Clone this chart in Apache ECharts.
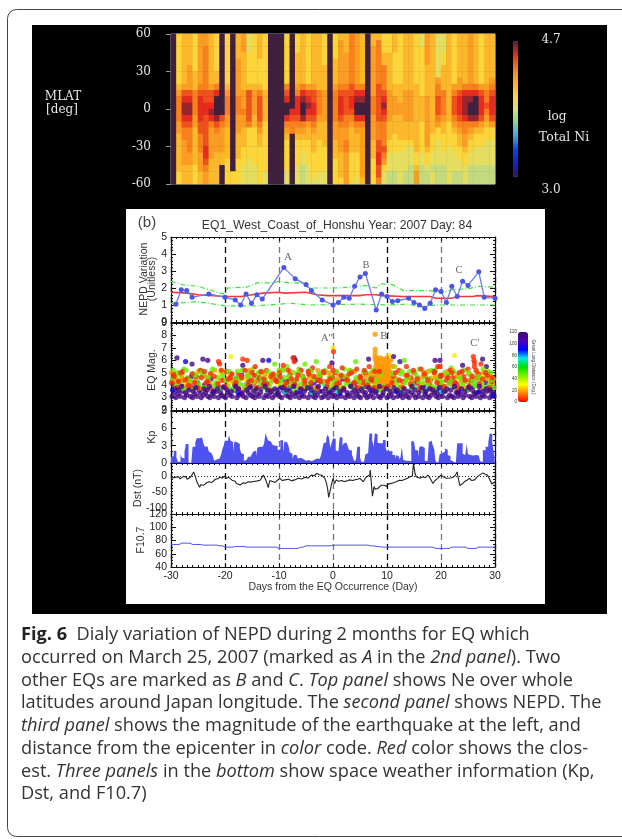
<!DOCTYPE html>
<html><head><meta charset="utf-8">
<style>html,body{margin:0;padding:0;background:#fff}
#c,#cap{position:absolute;left:0;top:0;width:622px;height:839px}
#c{filter:blur(0.62px)}#cap{pointer-events:none}</style>
<script src="https://cdn.jsdelivr.net/npm/echarts@6/dist/echarts.min.js"></script></head>
<body><div id="c"></div><div id="cap"></div>
<script>
// ---- heat map: one string per day column, top row (+60) to bottom row (-60); char = level
const logNiLevels = [3.80,3.90,4.02,4.14,4.24,4.34,4.45,4.53,4.61,4.70];
const logNiColumns = [
"999999999999999999999999","222222223455554433333322","333333334678876554444333","333334444678876555544333",
"222222333555544333333222","444444445677776655544433","445555555667766666776544","333333334667875444443333",
"222222335799986544433333","999999999999965444433999","222222223455544333332222","999999999999999999999922",
"333344444455544433332222","444333333444544333222111","111222223666665222221111","222222223444433222222111",
"333322223566665433222222","222222222333332222222211","999999999999999999999999","999999999999999999999999",
"999999999999999999999999","222222225679975432222211","999999999999765599999999","222333334577765432222111",
"333333335789985432211000","222222224678764332222111","333333334667765433322221","333333333555543332222211",
"222223333444443333222211","999999999999999999999999","222233334555554443332222","344444445677765444433332",
"333444445666655445544444","555555556677654333322222","444444445789975433322221","333333335789975444444443",
"999999999999999999999999","334444444455544443332222","355555556666665556677665","222335555678765555654211",
"222333333444443332211100","333222223344433322211100","222222223334433332211111","333333333444443332111100",
"333333333444443332111000","222222223333333333322344","112222222233332222211000","444443333344444444322100",
"333333333333333322211011","111111145566654221111000","111223333555543322211000","333333333333332222111111",
"222222224566654322211100","333333344677765433221100","333333335788875544322111","444444445789985432211000",
"333333335799985322111000","222222224677764322111000","333333334556543221111000","333333345677764221111000"];

// ---- NEPD panel: [day, value]
const nepdBlue = [[-29.1,1.05],[-28.1,1.9],[-27.1,1.85],[-26.1,1.45],[-23,1.65],[-20,1.45],[-18.1,1.3],[-17.1,1.0],[-16.1,1.65],[-15.1,1.1],[-14.1,1.6],[-13.1,1.35],[-9.1,3.2],[-7,2.55],[-5,2.2],[-4,1.85],[-2,1.3],[0,1.0],[1,1.15],[2,1.45],[3,1.4],[4,2.1],[5,2.65],[6,2.85],[8,0.7],[9,1.65],[10,1.5],[11,1.2],[12,1.25],[14,1.4],[15,1.15],[16,1.0],[17,0.8],[18,1.1],[19,1.9],[20,1.8],[21,1.15],[22,2.1],[23,1.5],[24,2.4],[25,2.15],[27,2.95],[28,1.45],[30,1.4]];
const nepdRed = [[-30,1.75],[-27,1.7],[-25,1.6],[-20,1.5],[-17,1.5],[-15,1.6],[-13,1.7],[-10,1.75],[-9,1.7],[-5,1.75],[-3,1.6],[-1,1.55],[5,1.55],[6,1.6],[8,1.6],[9,1.55],[13,1.5],[18,1.5],[19,1.4],[22,1.4],[23,1.5],[26,1.5],[26.5,1.55],[30,1.5]];
const nepdUpper = [[-30,2.4],[-28,2.2],[-25,2.1],[-23,1.9],[-21,1.7],[-20,1.65],[-19.5,2.0],[-16,2.05],[-14,2.3],[-11,2.3],[-10,2.4],[-8,2.3],[-6,2.3],[-4.5,2.0],[1,2.0],[5,2.1],[6,2.15],[8,2.0],[8.8,2.25],[11,2.2],[13,1.85],[18,1.85],[20,1.7],[22,1.9],[25,1.95],[27,2.1],[30,2.05]];
const nepdLower = [[-30,1.1],[-27,1.15],[-25.5,1.2],[-23,1.1],[-20,0.95],[-14,0.95],[-10,1.05],[-8,1.1],[-6,1.05],[-4,1.0],[5,1.05],[10,1.0],[14,1.05],[16,0.9],[19,1.0],[24,1.0],[30,1.0]];

// ---- earthquakes: flat day*10, magnitude*10 pairs, one list per distance colour
const eqPurple = [-298,31,-294,34,-291,30,-287,33,-283,31,-279,35,-275,30,-271,32,-268,38,-264,31,-260,30,-256,33,-252,31,-248,36,-244,30,-240,32,-236,34,-232,31,-228,30,-224,33,-220,31,-216,35,-212,30,-207,32,-203,31,-199,30,-195,34,-191,32,-187,31,-183,36,-178,30,-174,32,-170,33,-166,31,-161,30,-157,34,-153,32,-149,31,-145,30,-141,33,-137,31,-133,37,-128,30,-124,32,-120,31,-116,34,-112,30,-107,32,-103,33,-99,31,-95,30,-91,35,-87,32,-83,31,-79,30,-75,33,-70,31,-66,34,-62,30,-58,32,-54,31,-50,37,-46,30,-42,33,-37,31,-33,30,-29,32,-25,35,-21,30,-17,31,-13,33,-9,30,-5,34,-1,31,3,32,7,30,11,33,15,31,19,36,23,30,27,32,31,31,35,34,39,30,43,33,47,31,51,30,55,35,59,32,63,30,67,31,71,33,75,30,79,34,84,31,88,30,92,32,96,37,100,30,104,31,108,33,112,30,116,35,120,31,124,32,129,30,133,33,137,31,141,30,145,34,149,32,153,30,158,31,162,36,166,30,170,33,174,31,178,30,182,32,187,34,191,31,195,30,199,33,203,31,208,35,212,30,216,32,220,31,224,30,228,34,232,31,236,33,241,30,245,32,249,36,253,31,257,30,261,33,265,31,269,34,273,30,277,32,281,31,285,35,290,30,294,33,298,31,
-296,41,-285,44,-277,39,-262,47,-251,42,-238,40,-226,45,-209,38,-196,43,-181,41,-169,48,-152,39,-139,44,-127,42,-110,46,-98,38,-84,43,-72,40,-56,47,-41,39,-27,44,-12,41,2,38,18,45,33,40,46,43,61,39,77,46,94,41,109,44,123,38,138,47,151,42,168,39,181,45,197,41,211,48,226,38,239,44,254,40,268,46,283,42,296,39,
-289,62,-241,61,-232,60,-261,57,-167,56,-130,60,-72,62,-70,60,-2,58,66,61,112,63,124,59,189,60,198,60,277,61,284,55,240,56];
const eqPurple2 = [-293,37,-286,36,-281,39,-273,34,-267,36,-259,35,-254,38,-246,34,-239,37,-233,36,-229,39,-221,35,-214,37,-208,34,-202,38,-196,36,-188,35,-180,39,-175,37,-168,34,-160,36,-154,38,-147,35,-142,37,-134,34,-126,39,-121,36,-114,35,-108,37,-101,34,-93,38,-86,36,-80,35,-73,39,-68,34,-60,37,-53,35,-47,38,-40,36,-34,34,-27,39,-20,35,-14,37,-7,34,0,36,6,38,13,35,20,37,26,34,33,39,40,36,47,35,53,37,60,34,66,38,73,36,80,35,86,39,93,34,99,37,106,35,113,38,119,36,126,34,132,37,139,35,146,39,152,36,159,34,165,38,171,35,179,37,185,36,192,34,198,38,205,35,211,37,218,36,225,39,231,34,238,37,244,35,251,38,258,36,264,34,271,39,278,35,284,37,291,36,297,34];
const eqBlue = [-297,36,-273,59,-259,37,-222,35,-201,39,-176,34,-147,41,-119,60,-105,36,-81,38,-60,35,-35,42,-8,36,13,34,41,39,69,36,90,44,118,35,147,38,172,35,193,37,218,42,233,35,259,39,271,35,291,37,297,32,-180,45,-94,44,58,43];
const eqCyan = [-290,37,-255,40,-217,38,-186,37,-159,42,-122,36,-89,35,-65,37,-39,34,-15,40,9,35,37,38,65,41,83,36,106,40,127,35,156,39,176,37,201,35,222,40,247,37,263,42,280,38,295,41];
const eqGreen = [-296,52,-292,47,-288,50,-281,43,-276,53,-270,46,-266,41,-258,49,-254,44,-247,52,-242,38,-237,47,-230,43,-225,50,-219,40,-214,46,-206,52,-201,44,-194,39,-189,48,-184,42,-177,51,-172,45,-165,40,-158,49,-154,43,-148,53,-143,47,-135,41,-131,50,-125,44,-118,39,-113,48,-108,57,-100,52,-96,42,-90,46,-85,55,-78,40,-73,50,-69,44,-63,53,-57,47,-52,57,-47,41,-40,51,-36,45,-31,59,-26,49,-19,43,-14,52,-7,46,-3,40,4,50,8,44,14,39,21,53,26,47,29,42,36,51,42,59,48,45,53,41,57,50,62,43,68,49,73,52,78,42,86,37,91,48,98,40,103,52,107,46,114,55,119,42,125,49,132,60,135,44,142,51,148,40,155,47,160,53,167,42,172,50,179,45,184,39,190,52,196,47,202,43,207,50,214,41,219,54,225,45,230,49,237,40,243,52,248,43,255,48,260,41,266,51,272,44,278,53,284,46,289,40,293,50,297,45];
const eqGreen2 = [-297,45,-291,39,-284,49,-277,37,-272,52,-265,44,-261,36,-255,48,-249,41,-243,50,-236,38,-231,46,-223,53,-218,42,-211,37,-205,48,-198,44,-193,51,-185,36,-179,46,-173,41,-168,52,-162,38,-156,47,-149,43,-145,36,-138,50,-132,45,-127,38,-120,51,-116,42,-109,36,-103,48,-97,44,-92,52,-87,38,-82,47,-76,43,-71,36,-64,50,-61,41,-55,46,-49,38,-43,52,-37,44,-32,37,-25,48,-21,42,-16,50,-9,37,-4,46,2,43,7,51,12,36,19,47,24,41,31,52,37,38,43,46,49,43,54,37,59,51,64,42,69,46,75,38,81,44,87,36,89,49,94,39,100,38,105,36,111,49,117,44,122,37,128,51,133,42,140,46,146,38,152,50,158,43,165,36,170,47,176,41,182,52,188,38,194,45,200,42,206,37,212,49,217,44,223,51,228,38,235,46,241,42,247,36,252,50,258,44,264,39,270,47,276,41,282,37,287,51,293,44,298,38];
const eqYellow = [-284,46,-272,41,-189,63,-243,37,-210,49,-192,42,-163,45,-141,38,-121,47,-103,41,-77,44,-51,39,-31,46,-11,42,0,70,10,38,28,44,52,47,74,40,103,64,117,39,139,45,164,41,185,47,205,38,225,64,235,45,258,42,275,47,292,44];
const eqOrange = [-299,50,-293,44,-280,48,-265,43,-249,51,-233,46,-215,41,-200,50,-186,44,-171,47,-155,52,-142,43,-126,49,-111,45,-93,53,-76,41,-61,50,-44,46,-28,52,-16,43,-4,49,6,44,24,47,40,51,55,43,70,49,164,46,177,51,192,43,206,48,221,52,238,44,251,49,264,45,279,50,291,47,
78,81,78,69,78,66,78,63,78,61,80,59,82,62,84,57,85,60,87,55,88,62,90,58,91,53,93,61,94,56,96,60,97,51,99,58,100,62,101,54,103,59,105,56,107,60,108,50,79,55,80,52,81,48,82,45,83,42,84,53,85,49,86,46,87,43,88,51,89,47,90,44,91,41,92,50,93,46,94,43,95,53,96,48,97,45,98,42,99,51,100,47,101,44,102,41,103,52,104,49,105,46,106,43,107,50,108,47,109,44,110,55,78,47,79,43,100,55,103,46,84,56,92,55,96,50,81,57];
const eqOrange2 = [-296,44,-289,41,-279,45,-270,39,-257,43,-247,37,-240,48,-228,41,-219,52,-208,44,-198,38,-190,49,-178,43,-164,37,-158,47,-146,41,-136,50,-124,38,-113,44,-102,48,-89,41,-79,51,-66,39,-55,44,-43,48,-33,38,-22,43,-9,50,3,41,11,47,19,38,31,52,42,44,50,40,61,47,68,38,74,43,79,38,84,39,90,37,97,38,103,39,110,41,118,45,127,39,134,48,147,44,159,38,168,50,180,43,189,46,200,39,212,51,220,41,231,47,243,38,254,44,267,49,276,38,287,45,296,41];
const eqRed = [-295,48,-286,43,-278,51,-269,45,-263,39,-253,47,-245,52,-235,42,-227,49,-212,59,-210,57,-204,44,-197,51,-190,46,-182,40,-175,48,-167,61,-159,60,-156,43,-150,50,-144,55,-136,46,-129,41,-123,52,-115,47,-106,44,-99,50,-92,56,-86,42,-80,48,-74,62,-72,59,-67,45,-59,52,-53,41,-45,49,-38,54,-30,44,-24,47,-18,51,-10,43,-6,55,-1,46,1,67,5,50,12,42,17,54,22,45,30,49,38,41,44,53,50,47,56,42,60,50,67,55,72,44,77,51,112,47,122,52,129,43,136,55,144,46,150,50,157,42,163,53,171,47,178,41,188,50,194,55,198,55,200,48,210,44,217,52,222,46,229,41,234,50,242,47,250,53,256,44,262,55,260,63,261,60,262,58,270,49,274,57,286,48,294,43];
const eqRed2 = [-299,42,-294,47,-288,38,-282,50,-274,44,-268,40,-261,49,-256,42,-250,38,-244,46,-238,51,-232,43,-226,37,-220,47,-213,41,-207,52,-200,39,-194,45,-187,49,-180,42,-174,37,-169,46,-163,52,-157,40,-151,44,-146,48,-140,38,-133,51,-128,45,-122,41,-117,36,-111,49,-104,43,-98,47,-90,39,-83,52,-77,45,-71,41,-65,48,-58,37,-52,44,-46,51,-41,42,-35,47,-29,38,-23,43,-17,50,-11,39,-5,45,0,52,7,41,15,48,20,37,27,44,34,50,39,42,45,38,51,46,58,52,64,40,70,45,76,38,86,51,95,38,102,39,109,42,116,50,123,44,130,38,137,48,143,41,149,52,156,45,162,38,169,49,175,44,181,37,187,51,193,42,199,47,206,39,213,46,220,50,226,42,232,38,239,51,245,44,252,39,258,47,265,52,271,41,277,45,283,50,289,38,295,46];
const eqDist = {purple:115, blue:92, cyan:75, green:48, yellow:28, orange:18, red:5};

// ---- Kp: four values per day from day -30
const kpValues = [1.0,1.2,2.1,2.1,1.0,0.2,0.2,1.5,0.9,0.8,2.0,3.3,3.3,0.1,0,0,2.8,2.8,3.6,4.3,4.3,4.0,4.4,4.2,3.4,2.8,2.9,2.7,2.0,1.7,1.5,1.2,0.4,0.6,0.9,0.8,0.7,1.4,2.4,3.0,3.9,3.8,3.6,4.8,3.9,3.6,2.0,3.7,3.6,3.4,3.3,2.5,1.7,1.5,0.4,0.5,0.7,1.1,1.1,1.3,1.6,2.0,2.1,1.2,2.7,2.8,2.9,2.8,3.1,3.4,5.2,4.4,3.9,3.7,3.6,3.2,3.0,3.2,3.0,2.2,2.4,4.0,3.9,1.8,3.7,3.6,3.8,3.0,1.8,1.6,0.8,1.4,1.4,1.2,0.8,0.9,0.8,0.7,0.9,0.4,0.3,0.5,0.4,0.3,0.4,0.5,0.8,0.8,0.9,0.7,0.9,1.2,2.3,3.4,3.6,4.3,4.9,4.4,2.6,3.5,
4.3,4.2,2.2,2.0,2.0,4.5,4.4,3.0,3.4,3.5,3.4,2.8,2.2,2.2,1.5,0.8,0.2,0.6,2.8,2.8,1.0,0.2,0.2,0.3,1.5,1.7,1.8,5.1,5.1,4.0,2.8,5.1,5.0,3.5,3.4,3.2,3.4,4.0,4.0,2.6,2.0,2.4,2.0,2.1,1.4,1.4,0.8,1.4,1.1,0.6,1.0,2.8,0.5,0.4,0.6,0.4,0.2,0.3,3.8,3.7,3.6,2.2,2.2,1.0,2.8,2.9,2.7,2.6,0.4,0.3,0.5,3.6,3.9,3.9,3.0,2.4,0.2,0.1,0.3,1.5,1.7,1.7,2.0,2.5,2.3,1.4,1.2,0.5,0.2,0.2,0.1,0.2,3.4,3.4,3.3,3.4,1.6,1.4,1.3,3.3,1.5,1.4,1.4,1.3,1.0,1.4,1.4,1.3,1.2,0.3,0.2,2.2,2.2,2.8,2.8,3.5,5.1,5.0,3.6,2.0];

// ---- Dst: [day, nT]
const dstValues = [[-30,-8],[-29.8,-11],[-29.6,-6],[-29.4,-9],[-29.2,-5],[-28.9,-8],[-28.6,-3],[-28.3,-10],[-28,-8],[-27.7,-2],[-27.4,4],[-27.2,-4],[-27,-11],[-26.7,-7],[-26.4,-5],[-26.1,-3],[-25.8,12],[-25.5,-2],[-25.2,-19],[-25,-26],[-24.7,-36],[-24.5,-28],[-24.3,-24],[-24,-30],[-23.7,-26],[-23.4,-22],[-23,-19],[-22.7,-24],[-22.4,-21],[-22.1,-15],[-21.8,-11],[-21.5,-13],[-21.3,-9],[-20.9,-5],[-20.5,-7],[-20.1,-1],[-19.7,-8],[-19.3,-5],[-19,-11],[-18.7,-14],[-18.4,-19],[-18.1,-17],[-17.9,-24],[-17.6,-22],[-17.2,-29],[-16.9,-25],[-16.6,-22],[-16.2,-24],[-15.7,-19],[-15.3,-20],[-15,-16],[-14.7,-18],[-14.4,-14],[-14,-16],[-13.5,-14],[-13.2,-8],[-12.9,2],[-12.6,-8],[-12.3,-20],[-12,-37],[-11.7,-15],[-11.4,-20],[-11.2,-18],[-10.7,-21],[-10.3,-14],[-9.8,-8],[-9.4,-15],[-8.9,-13],[-8.2,-11],[-7.7,-16],[-7.1,-13],[-6.4,-8],[-5.8,-10],[-5.2,-5],[-4.6,-7],[-4,2],[-3.5,0],[-3,7],[-2.5,3],[-2.1,2],[-1.8,-3],[-1.5,-8],[-1.2,-24],[-1,-40],[-0.8,-68],[-0.5,-45],[-0.3,-29],[0,-8],[0.3,-24],[0.6,-13],[1,-17],[1.6,-15],[2,-18],[2.5,-17],[3,-13],[3.7,-15],[4.2,-12],[4.6,-11],[5,-8],[5.3,-5],[5.6,-19],[5.9,-10],[6.2,-3],[6.5,-6],[6.8,2],[6.9,18],[7.1,-24],[7.3,-64],[7.6,-34],[7.8,-42],[8,-47],[8.3,-40],[8.6,-38],[8.9,-30],[9.2,-24],[9.5,-30],[9.9,-34],[10.1,-27],[10.4,-22],[10.8,-24],[11.1,-18],[11.7,-19],[12.3,-14],[12.8,-15],[13.3,-11],[13.8,-8],[14.2,-3],[14.7,-1],[14.9,38],[15.2,7],[15.4,-3],[15.7,-5],[16.1,-8],[16.6,-3],[17.1,-6],[17.6,2],[18,-8],[18.3,-14],[18.5,-24],[18.9,-15],[19.4,-8],[19.7,-3],[20,2],[20.3,-3],[20.6,-5],[21,-8],[21.3,-11],[21.8,-7],[22.2,-5],[22.6,0],[23,12],[23.2,-8],[23.5,-31],[23.9,-26],[24.3,-19],[24.8,-14],[25.3,-8],[25.7,-15],[26.2,-13],[26.6,-5],[27.1,2],[27.4,-2],[27.8,9],[28.2,4],[28.6,2],[29,-11],[29.2,-18],[29.4,-26],[29.7,-21],[30,-19]];

// ---- F10.7: one value per day from day -30
const f107Values = [74,74,76,76,74,74,73,73,73,72,70,70,71,71,70,70,70,70,70,70,68,68,68,68,70,72,72,72,72,72,73,73,73,73,73,73,73,72,71,70,70,70,70,70,70,70,70,70,70,68,68,68,70,70,70,68,68,70,70,70,70];

const captionLines = [
"{b|Fig. 6}  Dialy variation of NEPD during 2 months for EQ which",
"occurred on March 25, 2007 (marked as {i|A} in the {i|2nd panel}). Two",
"other EQs are marked as {i|B} and {i|C}. {i|Top panel} shows Ne over whole",
"latitudes around Japan longitude. The {i|second panel} shows NEPD. The",
"{i|third panel} shows the magnitude of the earthquake at the left, and",
"distance from the epicenter in {i|color} code. {i|Red} color shows the clos-",
"est. {i|Three panels} in the {i|bottom} show space weather information (Kp,",
"Dst, and F10.7)"];

// ---- layout
const GL=171, GW=324;
const panels = [
 {top:237,h:85,min:0,max:5,int:1,minor:5,labels:[0,1,2,3,4,5]},
 {top:323,h:87,min:2,max:9,int:1,minor:5,labels:[2,3,4,5,6,7,8,9]},
 {top:411,h:52,min:0,max:9,int:3,minor:3,labels:[0,3,6,9]},
 {top:463,h:51,min:-120,max:40,int:10,minor:1,labels:[-100,-50,0]},
 {top:514,h:53,min:40,max:120,int:20,minor:4,labels:[40,60,80,100,120]}];
const SANS='"Liberation Sans",Arial,sans-serif', SERIF='"DejaVu Serif",serif';
const ink='#222';
const grid=[],xAxis=[],yAxis=[],series=[];
panels.forEach((p,i)=>{
  grid.push({left:GL,width:GW,top:p.top,height:p.h});
  const line={onZero:false,lineStyle:{color:'#111',width:1.2}};
  xAxis.push({type:'value',gridIndex:i,min:-30,max:30,interval:10,position:'bottom',axisLine:line,
    axisTick:{inside:true,length:4,lineStyle:{color:'#111'}},minorTick:{show:true,splitNumber:10,length:2,lineStyle:{color:'#111'}},
    axisLabel:i===4?{color:ink,fontFamily:SANS,fontSize:10.5,margin:4}:{show:false},
    splitLine:{show:true,lineStyle:{type:[6,4],width:1.3,color:['#222','#000','#777','#777','#000','#777','#222']}},minorSplitLine:{show:false}});
  xAxis.push({type:'value',gridIndex:i,min:-30,max:30,interval:10,position:'top',axisLine:line,
    axisTick:{inside:true,length:4,lineStyle:{color:'#111'}},minorTick:{show:true,splitNumber:10,length:2,lineStyle:{color:'#111'}},
    axisLabel:{show:false},splitLine:{show:false}});
  yAxis.push({type:'value',gridIndex:i,min:p.min,max:p.max,interval:p.int,position:'left',axisLine:line,
    axisTick:{inside:true,length:p.minor===1?2:5,lineStyle:{color:'#111'}},minorTick:{show:p.minor>1,splitNumber:p.minor,length:2,lineStyle:{color:'#111'}},
    axisLabel:{color:ink,fontFamily:SANS,fontSize:10.5,margin:4,formatter:v=>p.labels.includes(v)?String(v):''},splitLine:{show:false}});
  yAxis.push({type:'value',gridIndex:i,min:p.min,max:p.max,interval:p.int,position:'right',axisLine:line,
    axisTick:{inside:true,length:p.minor===1?2:5,lineStyle:{color:'#111'}},minorTick:{show:p.minor>1,splitNumber:p.minor,length:2,lineStyle:{color:'#111'}},
    axisLabel:{show:false},splitLine:{show:false}});
});
const ax=i=>({xAxisIndex:i*2,yAxisIndex:i*2,animation:false,silent:true});

// NEPD
series.push({type:'line',...ax(0),data:nepdUpper,symbol:'none',z:3,lineStyle:{color:'#3fe03f',width:1.2,type:[5,2,1,2]}});
series.push({type:'line',...ax(0),data:nepdLower,symbol:'none',z:3,lineStyle:{color:'#3fe03f',width:1.2,type:[5,2,1,2]}});
series.push({type:'line',...ax(0),data:nepdRed,symbol:'none',z:4,lineStyle:{color:'#f03a3a',width:1.6}});
series.push({type:'line',...ax(0),data:nepdBlue,symbol:'circle',symbolSize:5,z:5,lineStyle:{color:'#6f7cf0',width:1.3},itemStyle:{color:'#4a55ee'}});
// EQ scatter
const decode=(flat,dist)=>{const o=[];for(let i=0;i+1<flat.length;i+=2)o.push([flat[i]/10,flat[i+1]/10,dist]);return o;};
const D=eqDist;
const eqData=[].concat(decode(eqPurple,D.purple),decode(eqBlue,D.blue),decode(eqCyan,D.cyan),decode(eqYellow,D.yellow),decode(eqGreen,D.green),decode(eqOrange,D.orange),decode(eqOrange2,D.orange),decode(eqRed,D.red),decode(eqGreen2,D.green),decode(eqRed2,D.red),decode(eqPurple2,D.purple));
const scatterIdx=series.length;
series.push({type:'scatter',...ax(1),data:eqData,symbolSize:5.2,z:3,encode:{x:0,y:1}});
// Kp
const kpData=kpValues.map((v,i)=>[-30+i/4,v]); kpData.push([30,kpValues[kpValues.length-1]]);
series.push({type:'line',...ax(2),data:kpData,step:'end',symbol:'none',z:1,lineStyle:{width:0},areaStyle:{color:'#4f52f2',opacity:1}});
// Dst
series.push({type:'line',...ax(3),data:dstValues,symbol:'none',z:3,lineStyle:{color:'#222',width:1.1},
  markLine:{silent:true,symbol:'none',label:{show:false},animation:false,lineStyle:{color:'#222',type:[1,2],width:1},data:[{yAxis:0}]}});
// F10.7
series.push({type:'line',...ax(4),data:f107Values.map((v,i)=>[-30+i,v]),step:'middle',symbol:'none',z:3,lineStyle:{color:'#4a4ff0',width:1}});

// heat map grid (5) and overlaid value axes (6)
const HL=171,HT=34,HW=324,HH=150;
grid.push({left:HL,top:HT,width:HW,height:HH});
xAxis.push({type:'category',gridIndex:5,show:false,data:logNiColumns.map((c,i)=>i)});
yAxis.push({type:'category',gridIndex:5,show:false,data:logNiColumns[0].split('').map((c,i)=>i)});
const heatIdx=series.length;
const heatData=[];logNiColumns.forEach((col,x)=>col.split('').forEach((c,r)=>heatData.push([x,col.length-1-r,logNiLevels[+c]])));
series.push({type:'heatmap',xAxisIndex:10,yAxisIndex:10,data:heatData,silent:true,animation:false,z:2,itemStyle:{borderWidth:0}});
grid.push({left:HL,top:HT,width:HW,height:HH,show:true,borderColor:'#aaa',borderWidth:1,backgroundColor:'transparent'});
xAxis.push({type:'value',gridIndex:6,min:-30,max:30,show:false});
yAxis.push({type:'value',gridIndex:6,min:-60,max:60,interval:30,position:'left',
  axisLine:{show:true,onZero:false,lineStyle:{color:'#999'}},axisTick:{length:5,lineStyle:{color:'#999'}},
  axisLabel:{color:'#e4e4e4',fontFamily:SERIF,fontSize:12,margin:20},splitLine:{show:false}});
// distance colour-bar axis (7)
grid.push({left:518,top:332,width:10,height:70});
xAxis.push({type:'value',gridIndex:7,min:0,max:1,show:false});
yAxis.push({type:'value',gridIndex:7,min:0,max:120,interval:20,position:'left',axisLine:{show:false},axisTick:{show:false},
  axisLabel:{color:'#333',fontFamily:SANS,fontSize:4.5,margin:1},splitLine:{show:false}});
series.push({type:'line',xAxisIndex:11,yAxisIndex:11,data:[],silent:true});
series.push({type:'line',xAxisIndex:12,yAxisIndex:12,data:[],silent:true});

const visualMap=[
 {type:'continuous',seriesIndex:heatIdx,min:3.0,max:4.7,dimension:2,calculable:false,left:513,top:41,itemWidth:5,itemHeight:136,padding:0,text:null,
  inRange:{color:['#2a1a45','#1522c8','#1040f0','#4a9fe0','#88cfa0','#dce070','#fbd53a','#fdac28','#f77a1c','#e62c20','#40203f']}},
 {type:'continuous',seriesIndex:scatterIdx,min:0,max:120,dimension:2,calculable:false,left:518,top:332,itemWidth:10,itemHeight:70,padding:0,text:null,
  inRange:{color:['#ff0000','#ff8000','#ffff00','#80f000','#00e000','#00e8e8','#0000ff','#5000b0','#3c0a70']}}];

function txt(text,x,y,o={}){return {type:'text',x,y,rotation:o.rot||0,z:100,silent:true,style:{text,
  fontFamily:o.font||SANS,fontSize:o.size||10,fontWeight:o.weight||'normal',fill:o.fill||'#333',
  align:o.align||'center',textAlign:o.align||'center',verticalAlign:'middle',textVerticalAlign:'middle'}};}
const R=Math.PI/2, CAP='"Open Sans",sans-serif', capFill='#333', CS=18.2;
const capRich={b:{fontFamily:CAP,fontSize:CS,fontWeight:'bold',fill:'#222'},i:{fontFamily:CAP,fontSize:CS,fontStyle:'italic',fill:capFill}};
const capY=[635,658,681,703,726,749,772,794];
const graphic=[
 {type:'rect',z:-10,silent:true,shape:{x:32,y:25,width:575,height:589},style:{fill:'#000'}},
 {type:'rect',z:-9,silent:true,shape:{x:126,y:209,width:419,height:395},style:{fill:'#fff'}},
 txt('MLAT',63,97,{font:SERIF,size:12,fill:'#e8e8e8'}),
 txt('[deg]',62,110,{font:SERIF,size:12,fill:'#e8e8e8'}),
 txt('4.7',551,40,{font:SERIF,size:12,fill:'#e4e4e4'}),
 txt('log',557,117,{font:SERIF,size:12,fill:'#e4e4e4'}),
 txt('Total Ni',564,138,{font:SERIF,size:12.5,fill:'#e4e4e4'}),
 txt('3.0',551,190,{font:SERIF,size:12,fill:'#e4e4e4'}),
 txt('(b)',147,223,{size:15,fill:'#444'}),
 txt('EQ1_West_Coast_of_Honshu Year: 2007 Day: 84',337,226,{size:12.2,fill:'#333'}),
 txt('NEPD Variation',144,279,{rot:R,size:10.5}),
 txt('(Unitless)',152,279,{rot:R,size:10.5}),
 txt('EQ Mag.',152,370,{rot:R,size:10.5}),
 txt('Kp',152,437,{rot:R,size:10.5}),
 txt('Dst (nT)',138,488,{rot:R,size:10.5}),
 txt('F10.7',141,540,{rot:R,size:10.5}),
 txt('Days from the EQ Occurrence (Day)',333,587,{size:10.5}),
 txt('A',288,257,{font:'"Liberation Serif",serif',size:10.5,fill:'#666'}),
 txt('B',366,265,{font:'"Liberation Serif",serif',size:10.5,fill:'#666'}),
 txt('C',459,270,{font:'"Liberation Serif",serif',size:10.5,fill:'#666'}),
 txt("A\u2032\u2032",327,338,{font:'"Liberation Serif",serif',size:10.5,fill:'#666'}),
 txt("B\u2032",385,336,{font:'"Liberation Serif",serif',size:10.5,fill:'#666'}),
 txt("C\u2032",475,343,{font:'"Liberation Serif",serif',size:10.5,fill:'#666'}),
 txt('Great Long Distance (Deg.)',533,367,{rot:-R,size:4.5})
];
const capGraphic=[
 {type:'rect',z:0,silent:true,shape:{x:7.5,y:9.5,width:700,height:827,r:9},style:{fill:'none',stroke:'#444',lineWidth:1}},
 ...captionLines.map((t,i)=>({type:'text',x:21,y:capY[i],z:1,silent:true,style:{text:t,rich:capRich,fontFamily:CAP,fontSize:CS,fill:capFill,
   align:'left',textAlign:'left',verticalAlign:'middle',textVerticalAlign:'middle'}}))
];
const chart=echarts.init(document.getElementById('c'),null,{renderer:'canvas',width:622,height:839});
chart.setOption({animation:false,backgroundColor:'#fff',tooltip:{show:false},grid,xAxis,yAxis,series,visualMap,graphic});
const cap=echarts.init(document.getElementById('cap'),null,{renderer:'canvas',width:622,height:839});
cap.setOption({animation:false,backgroundColor:'transparent',graphic:capGraphic});
</script></body></html>
